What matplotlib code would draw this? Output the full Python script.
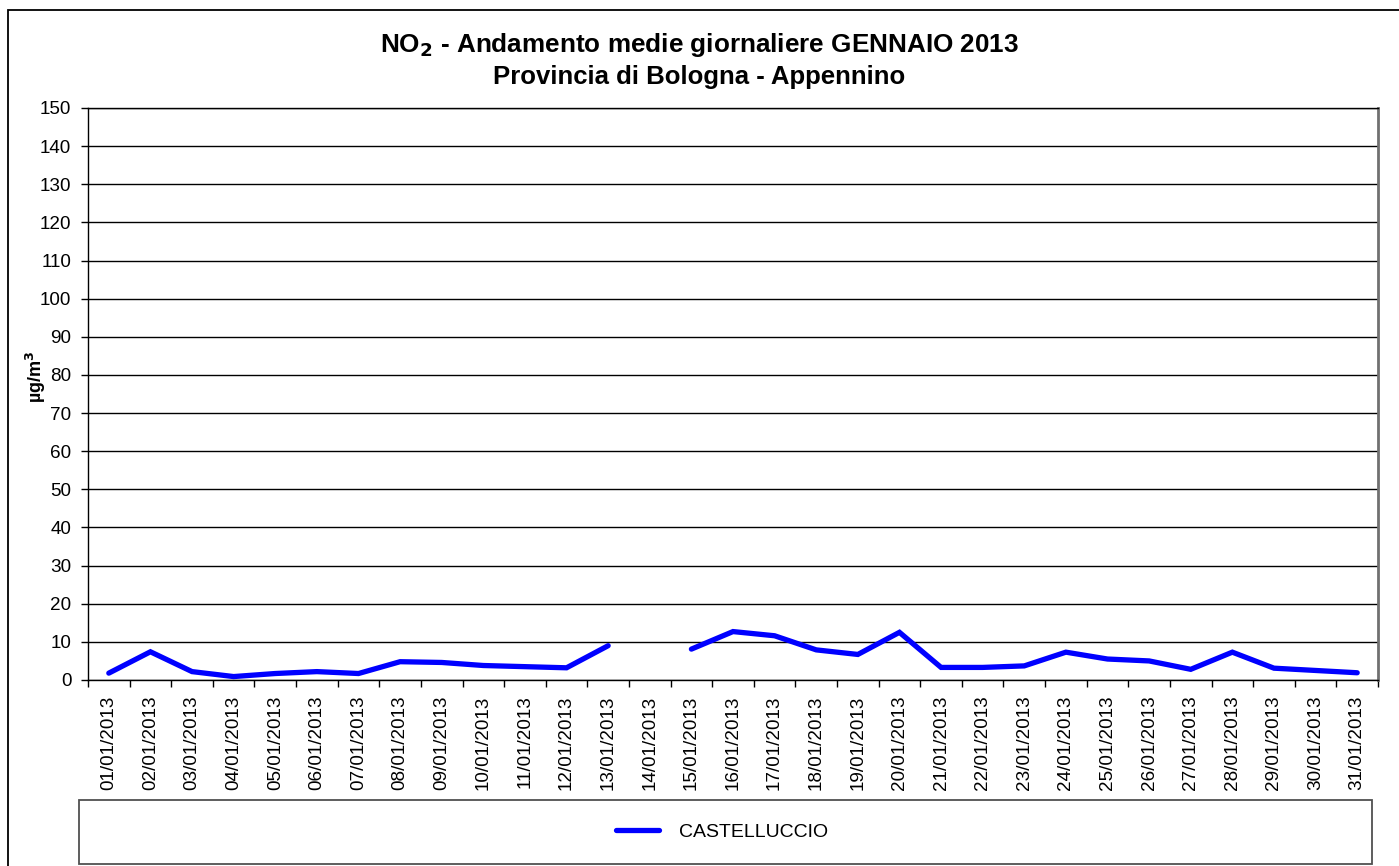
import numpy as np
import matplotlib
matplotlib.use("Agg")
import matplotlib.pyplot as plt
from matplotlib.patches import Rectangle

plt.rcParams['font.family'] = ['Liberation Sans', 'DejaVu Sans']

# daily NO2 means, January 2013 (14/01 missing)
days = [f"{d:02d}/01/2013" for d in range(1, 32)]
castelluccio = [1.8, 7.4, 2.2, 0.9, 1.7, 2.2, 1.7, 4.8, 4.6, 3.8,
                3.5, 3.2, 9.0, np.nan, 8.1, 12.7, 11.6, 7.9, 6.7, 12.5,
                3.3, 3.3, 3.7, 7.3, 5.5, 5.0, 2.8, 7.3, 3.1, 2.5, 1.9]
y_ticks = list(range(0, 151, 10))

W, H = 1399, 866
fig = plt.figure(figsize=(W / 100, H / 100), dpi=100)

# outer chart border
fig.patches.append(Rectangle((8 / W, -0.01), 1.02 - 8 / W, 1 - 10 / H + 0.01,
                             transform=fig.transFigure, fill=False,
                             edgecolor='#000000', linewidth=1.3, clip_on=False))

ax = fig.add_axes([88 / W, 1 - 680 / H, 1290 / W, 572 / H])

x = np.arange(len(days))
ax.plot(x, castelluccio, color='#0000FF', linewidth=3.8,
        solid_capstyle='round', solid_joinstyle='miter', label='CASTELLUCCIO')

ax.set_xlim(-0.5, len(days) - 0.5)
ax.set_ylim(0, 150)
ax.set_yticks(y_ticks)
ax.grid(axis='y', color='black', linewidth=1)
ax.set_axisbelow(True)

ax.set_xticks(x)
ax.set_xticklabels(days, rotation=90, fontsize=13.6)
ax.set_xticks(np.arange(-0.5, len(days)), minor=True)
ax.tick_params(axis='x', which='major', length=0, pad=11)
ax.tick_params(axis='x', which='minor', length=5, width=1, direction='out')
ax.tick_params(axis='y', labelsize=13.6, length=5, width=1, pad=7)

for side in ['left', 'bottom', 'top']:
    ax.spines[side].set_color('black')
    ax.spines[side].set_linewidth(1)
ax.spines['right'].set_color('#707070')
ax.spines['right'].set_linewidth(2)

ax.set_ylabel('µg/m$^\\mathbf{3}$', fontsize=13, fontweight='bold')
ax.yaxis.set_label_coords(-40 / 1290, 0.53)

fig.text(0.5, 1 - 45 / H, 'NO$_\\mathbf{2}$ - Andamento medie giornaliere GENNAIO 2013',
         ha='center', va='center', fontsize=18.8, fontweight='bold')
fig.text(0.5, 1 - 77 / H, 'Provincia di Bologna - Appennino',
         ha='center', va='center', fontsize=18.5, fontweight='bold')

# legend box
fig.patches.append(Rectangle((79 / W, 1 - 864 / H), (1372 - 79) / W, 64 / H,
                             transform=fig.transFigure, fill=False,
                             edgecolor='#505050', linewidth=1.3))
handles, labels = ax.get_legend_handles_labels()
fig.legend(handles, labels, loc='center', bbox_to_anchor=(722 / W, 1 - 832 / H),
           frameon=False, fontsize=14, handlelength=2.2, handletextpad=1.0)

fig.savefig('out.png', dpi=100)
